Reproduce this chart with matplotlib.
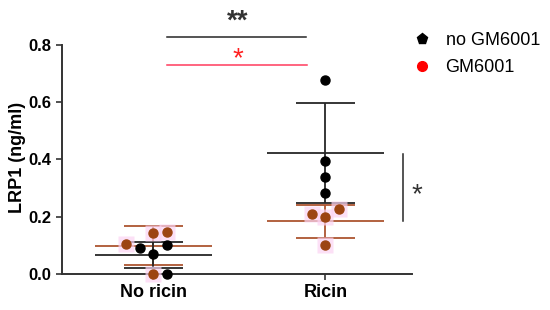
import matplotlib.pyplot as plt
import numpy as np
from matplotlib.lines import Line2D

plt.rcParams['font.family'] = ['Liberation Sans', 'DejaVu Sans']

# values
groups = ['No ricin', 'Ricin']
no_gm6001 = [[0.092, 0.070, 0.100, 0.000],
             [0.677, 0.396, 0.340, 0.284]]
gm6001 = [[0.105, 0.142, 0.147, 0.000],
          [0.208, 0.199, 0.228, 0.100]]
jitter_black = [[-0.08, 0.0, 0.08, 0.08], [0.0, 0.0, 0.0, 0.0]]
jitter_red = [[-0.16, 0.0, 0.08, 0.0], [-0.08, 0.0, 0.08, 0.0]]

dark = '#262626'
brown = '#9c4512'
redline = '#ad5530'

fig = plt.figure(figsize=(5.5, 3.1), dpi=100)
ax = fig.add_axes([0.1127, 0.116, 0.636, 0.739])

x = np.arange(len(groups))

def draw_group(vals, jit, col, lcol, halo):
    for i, v in enumerate(vals):
        v = np.array(v)
        m, sd = v.mean(), v.std(ddof=1)
        ax.hlines(m, x[i] - 0.34, x[i] + 0.34, color=lcol, lw=1.3, zorder=2)
        ax.hlines([m - sd, m + sd], x[i] - 0.17, x[i] + 0.17, color=lcol, lw=1.3, zorder=2)
        ax.vlines(x[i], m - sd, m + sd, color=lcol, lw=1.3, zorder=2)
        xs = x[i] + np.array(jit[i])
        if halo:
            ax.plot(xs, v, 's', ms=12, color='#fbd3f3', alpha=0.7, mec='none',
                    zorder=3, clip_on=False)
        ax.plot(xs, v, 'o', ms=6.5, color=col, mec=col, zorder=4, clip_on=False)

draw_group(gm6001, jitter_red, brown, redline, True)
draw_group(no_gm6001, jitter_black, 'black', dark, False)

ax.set_xlim(-0.532, 1.503)
ax.set_ylim(0, 0.8)
ax.set_yticks([0.0, 0.2, 0.4, 0.6, 0.8])
ax.set_yticklabels(['0.0', '0.2', '0.4', '0.6', '0.8'], fontsize=12, fontweight='bold')
ax.set_xticks(x)
ax.set_xticklabels(groups, fontsize=13, fontweight='bold')
ax.set_ylabel('LRP1 (ng/ml)', fontsize=13, fontweight='bold')
ax.yaxis.set_label_coords(-0.103, 0.509)
for s in ['top', 'right']:
    ax.spines[s].set_visible(False)
for s in ['left', 'bottom']:
    ax.spines[s].set_color('#333333')
    ax.spines[s].set_linewidth(1.4)
ax.tick_params(color='#333333', width=1.2, length=4)

# significance marks
ax.plot([0.077, 0.885], [0.829, 0.829], color=dark, lw=1.1, clip_on=False)
ax.text(0.49, 0.88, '**', ha='center', va='center', fontsize=20, fontweight='bold',
        color='#333333')
ax.plot([0.077, 0.893], [0.729, 0.729], color='#ff3b5c', lw=1.1, clip_on=False)
ax.text(0.49, 0.75, '*', ha='center', va='center', fontsize=20, color='#ff2020')
ax.plot([1.449, 1.449], [0.184, 0.42], color=dark, lw=1.1, clip_on=False)
ax.text(1.535, 0.275, '*', ha='center', va='center', fontsize=20, color='#333333')

handles = [Line2D([], [], ls='none', marker='p', ms=8, color='black', label='no GM6001'),
           Line2D([], [], ls='none', marker='o', ms=7, color='red', label='GM6001')]
fig.legend(handles=handles, loc='upper left', bbox_to_anchor=(0.7345, 0.926),
           frameon=False, fontsize=13, handlelength=1.0, handletextpad=0.8,
           labelspacing=0.57, borderpad=0)

fig.savefig('out.png', dpi=100)
